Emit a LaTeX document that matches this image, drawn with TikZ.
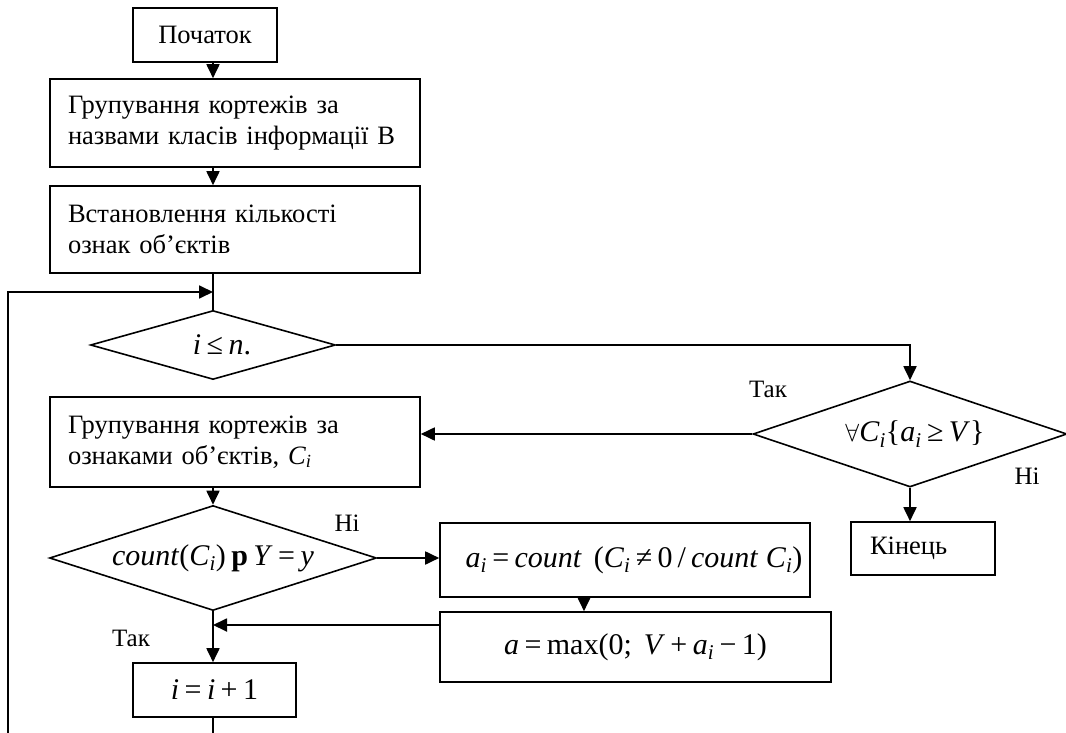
\documentclass[tikz,border=0pt]{standalone}
\usepackage{fontspec}
\setmainfont{Liberation Serif}
\usetikzlibrary{shapes.geometric,arrows.meta}
\newcommand\ssub[1]{\textsubscript{\itshape #1}}
\newcommand\op[1]{\hspace{0.18em}#1\hspace{0.18em}}
\newcommand\fm{\fontsize{30}{34}\selectfont}
\begin{document}
\begin{tikzpicture}[x=1pt,y=-1pt,
  every node/.style={font=\fontsize{26.5}{31}\selectfont},
  procbox/.style={draw,line width=1.6pt,inner sep=0pt,align=left},
  wideproc/.style={procbox,inner xsep=18pt,text width=334pt,minimum height=#1},
  decision/.style={draw,line width=1.6pt,shape=diamond,aspect=3,inner sep=0pt},
  flow/.style={line width=1.8pt,-{Triangle[length=14pt,width=13pt]}},
  plain/.style={line width=1.8pt},
  lbl/.style={font=\fontsize{25}{29}\selectfont,inner sep=0pt}]
\useasboundingbox (0,0) rectangle (1066,733);
\coordinate (sp) at (213,0);
% nodes
\node[procbox,minimum width=144pt,minimum height=54pt] (start) at (205,35) {Початок};
\node[wideproc=88pt] (b1) at (235,123) {Групування кортежів за\\назвами класів інформації В};
\node[wideproc=87pt] (b2) at (235,229.5) {Встановлення кількості\\ознак об’єктів};
\node[decision,minimum width=245pt,minimum height=69pt] (d1) at (213,345) {\fm\hspace{18pt}\textit{i}\op{≤}\textit{n}.};
\node[wideproc=90pt] (b3) at (235,442) {Групування кортежів за\\ознаками об’єктів, \textit{C}\ssub{i}};
\node[decision,minimum width=314pt,minimum height=106pt] (d2) at (910,434) {\fm\hspace{10pt}$\forall$\textit{C}\ssub{i}\{\textit{a}\ssub{i}\op{≥}\textit{V}\}};
\node[procbox,inner xsep=19pt,text width=106pt,minimum height=53pt] (end) at (923,548.5) {Кінець};
\node[decision,minimum width=327pt,minimum height=105pt] (d3) at (213,558) {\fm\textit{count}(\textit{C}\ssub{i})\op{\textbf{p}}\textit{Y}\op{=}\textit{y}};
\node[procbox,minimum width=370pt,minimum height=74pt,font=\fm] (b5) at (625,560) {\raisebox{5pt}{\hspace*{18pt}\textit{a}\ssub{i}\op{=}\textit{count}\hspace{0.4em}(\textit{C}\ssub{i}\op{≠}0\,/\,\textit{count}\hspace{0.25em}\textit{C}\ssub{i})}};
\node[procbox,minimum width=391pt,minimum height=70pt,font=\fm] (b6) at (635.5,647) {\textit{a}\op{=}max(0;\hspace{0.4em}\textit{V}\op{+}\textit{a}\ssub{i}\op{−}1)};
\node[procbox,minimum width=163pt,minimum height=54pt,font=\fm] (b7) at (214.5,690) {\textit{i}\op{=}\textit{i}\op{+}1};
% labels
\node[lbl] (t1) at (768,389) {Так};
\node[lbl] (n1) at (1027,476) {Ні};
\node[lbl] (n2) at (347,523) {Ні};
\node[lbl] (t2) at (131,638) {Так};
% helper coordinates
\coordinate (bot1) at (213,733);
\coordinate (bot2) at (8,733);
\coordinate (lt) at (8,292);
\coordinate (lj) at (213,292);
\coordinate (b5s) at (584,0);
% connectors
\draw[flow] (start.south -| sp) -- (b1.north -| sp);
\draw[flow] (b1.south -| sp) -- (b2.north -| sp);
\draw[plain] (b2.south -| sp) -- (d1.north);
\draw[flow] (bot2) -- (lt) -- (lj);
\draw[flow] (d1.east) -- (d1.east -| d2.north) -- (d2.north);
\draw[flow] (d2.west) -- (d2.west -| b3.east);
\draw[flow] (d2.south) -- (d2.south |- end.north);
\draw[flow] (b3.south -| sp) -- (d3.north);
\draw[flow] (d3.east) -- (d3.east -| b5.west);
\draw[flow] (b5.south -| b5s) -- (b6.north -| b5s);
\draw[flow] ([yshift=22pt]b6.west) -- ([yshift=22pt]b6.west -| sp);
\draw[flow] (d3.south) -- (b7.north -| sp);
\draw[plain] (b7.south -| sp) -- (bot1);
\end{tikzpicture}
\end{document}
